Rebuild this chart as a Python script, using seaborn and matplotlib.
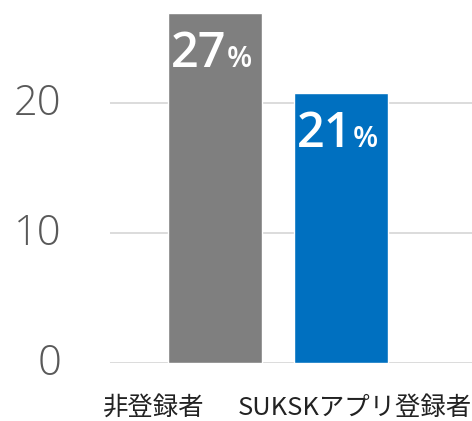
import matplotlib
matplotlib.use("Agg")
import matplotlib.pyplot as plt
import matplotlib.transforms as mtransforms
import numpy as np
import pandas as pd
import seaborn as sns

# data
groups = ["非登録者", "SUKSKアプリ登録者"]
rates = [26.9, 20.8]
rate_labels = ["27", "21"]
colors = ["#7f7f7f", "#0070c0"]
yticks = [0, 10, 20]

df = pd.DataFrame({"group": groups, "rate": rates})

sns.set_style("white")
plt.rcParams["font.family"] = ["Noto Sans CJK JP", "DejaVu Sans"]

fig = plt.figure(figsize=(4.72, 4.21), dpi=100)
ax = fig.add_axes([110 / 472, 58 / 421, 1 - 110 / 472, 363 / 421])

sns.barplot(data=df, x="group", y="rate", hue="group", palette=colors,
            width=0.75, saturation=1, legend=False, ax=ax, zorder=3)

ax.set_xlim(-0.833, 2.04)
ax.set_ylim(0, 27.92)
ax.set_yticks(yticks)
ax.set_yticklabels([str(v) for v in yticks], fontfamily="Open Sans", fontweight="light")
ax.set_xlabel("")
ax.set_ylabel("")
sns.despine(ax=ax, left=True, bottom=True, top=True, right=True)
ax.grid(axis="y", color="#d9d9d9", lw=1.3, zorder=0)
ax.tick_params(axis="y", length=0, pad=35, labelsize=30, labelcolor="#595959")
ax.tick_params(axis="x", length=0, pad=23, labelsize=18.3, labelcolor="#222222")

# nudge labels like in the original
for lab in ax.get_yticklabels():
    lab.set_transform(lab.get_transform() +
                      mtransforms.ScaledTranslation(0, 3 / 72, fig.dpi_scale_trans))
x_shift = [-61, 14]
for lab, dx in zip(ax.get_xticklabels(), x_shift):
    lab.set_transform(lab.get_transform() +
                      mtransforms.ScaledTranslation(dx / 100, 0, fig.dpi_scale_trans))

# value labels inside bars, big number + smaller %
for i, (v, s) in enumerate(zip(rates, rate_labels)):
    ax.annotate(s, (i, v), xytext=(8.5, -39), textcoords="offset points",
                ha="right", va="baseline", color="white", fontsize=35,
                fontfamily="Open Sans", fontweight="semibold")
    ax.annotate("%", (i, v), xytext=(8.5, -39), textcoords="offset points",
                ha="left", va="baseline", color="white", fontsize=21,
                fontfamily="Open Sans", fontweight="semibold")

fig.savefig("out.png", dpi=100)
